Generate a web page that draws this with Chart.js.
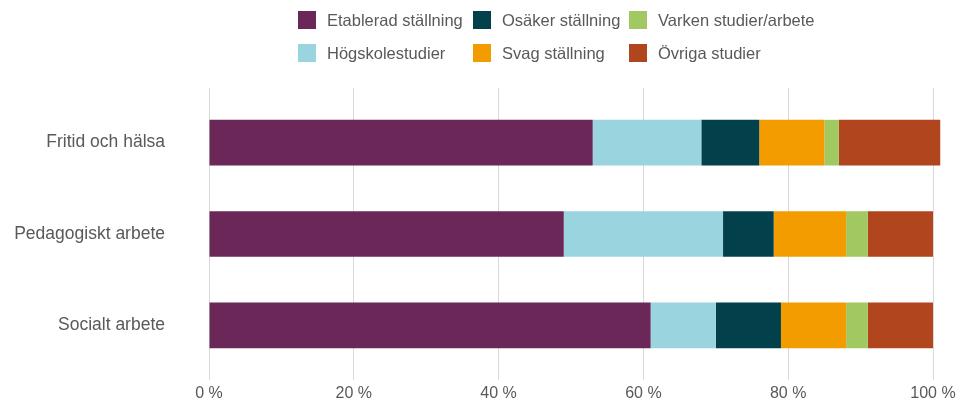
<!DOCTYPE html>
<html>
<head>
<meta charset="utf-8">
<script src="https://cdn.jsdelivr.net/npm/chart.js@4/dist/chart.umd.min.js"></script>
<style>
  html, body { margin: 0; padding: 0; background: #fff; }
  #wrap { position: relative; width: 965px; height: 405px; }
  #c { position: absolute; left: 0; top: 0; }
  #legend {
    position: absolute; left: 298px; top: 11px;
    display: grid;
    grid-template-columns: 175px 156px 200px;
    grid-template-rows: 33px 33px;
    grid-auto-flow: column;
    font-family: "Liberation Sans", Arial, sans-serif;
    font-size: 16.5px; color: #595959;
  }
  .li { display: flex; align-items: flex-start; white-space: nowrap; }
  .bx { width: 18px; height: 18px; margin-right: 11px; flex: none; }
  .tx { line-height: 18px; }
</style>
</head>
<body>
<div id="wrap">
  <canvas id="c" width="965" height="405" style="width:965px;height:405px"></canvas>
  <div id="legend"></div>
</div>
<script>
const categories = ['Fritid och hälsa', 'Pedagogiskt arbete', 'Socialt arbete'];
const seriesNames = ['Etablerad ställning', 'Högskolestudier', 'Osäker ställning', 'Svag ställning', 'Varken studier/arbete', 'Övriga studier'];
const etablerad = [53, 49, 61];
const hogskolestudier = [15, 22, 9];
const osaker = [8, 7, 9];
const svag = [9, 10, 9];
const varken = [2, 3, 3];
const ovriga = [14, 9, 9];
const xTickStep = 20;

const colors = ['#6B2758', '#9AD4DF', '#02404B', '#F39C00', '#A1C861', '#B1461E'];
const seriesValues = [etablerad, hogskolestudier, osaker, svag, varken, ovriga];

const textColor = '#595959';
const fontFamily = '"Liberation Sans", Arial, sans-serif';

const datasets = seriesNames.map((name, i) => ({
  label: name,
  data: seriesValues[i],
  backgroundColor: colors[i],
  borderWidth: 0,
  categoryPercentage: 1,
  barPercentage: 0.5,
  clip: false
}));

const xTickCallback = (v) => v + ' %';

const chart = new Chart(document.getElementById('c'), {
  type: 'bar',
  data: { labels: categories, datasets },
  options: {
    indexAxis: 'y',
    responsive: false,
    animation: false,
    devicePixelRatio: 1,
    layout: { padding: { top: 88, right: 32, bottom: 3, left: 0 } },
    plugins: { legend: { display: false }, tooltip: { enabled: false } },
    scales: {
      x: {
        stacked: true,
        min: 0, max: 100,
        afterFit: (s) => { s.height = 31; },
        grid: { color: '#D9D9D9', lineWidth: 1, drawTicks: true, tickLength: 9, tickColor: '#D9D9D9' },
        border: { display: false },
        ticks: { stepSize: xTickStep, color: textColor, font: { family: fontFamily, size: 16 }, padding: 4, maxRotation: 0, callback: xTickCallback }
      },
      xTop: {
        axis: 'x',
        position: 'top',
        min: 0, max: 100,
        afterFit: (s) => { s.height = 9; },
        grid: { color: '#D9D9D9', drawOnChartArea: false, drawTicks: true, tickLength: 9, tickColor: '#D9D9D9' },
        border: { display: false },
        ticks: { stepSize: xTickStep, display: false }
      },
      y: {
        stacked: true,
        grid: { display: false, drawTicks: false },
        border: { display: false },
        afterFit: (s) => { s.width = 209; s.paddingTop = 0; s.paddingBottom = 0; },
        ticks: { color: textColor, font: { family: fontFamily, size: 17.5 }, padding: 44, crossAlign: 'near' }
      }
    }
  }
});

const legendEl = document.getElementById('legend');
chart.data.datasets.forEach(ds => {
  const item = document.createElement('div');
  item.className = 'li';
  const bx = document.createElement('span');
  bx.className = 'bx';
  bx.style.background = ds.backgroundColor;
  const tx = document.createElement('span');
  tx.className = 'tx';
  tx.textContent = ds.label;
  item.appendChild(bx); item.appendChild(tx);
  legendEl.appendChild(item);
});
</script>
</body>
</html>
